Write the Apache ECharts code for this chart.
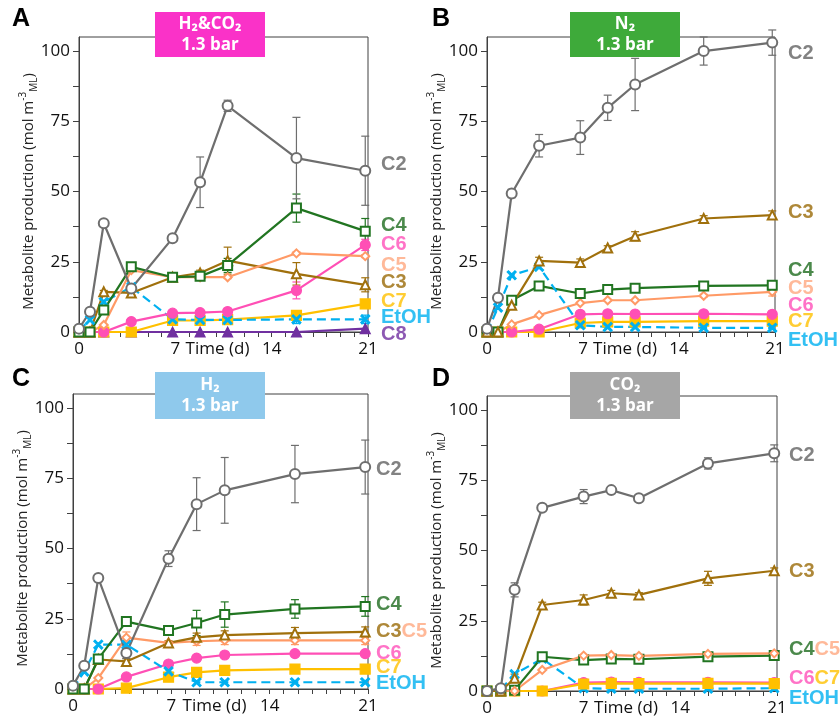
<!DOCTYPE html>
<html><head><meta charset="utf-8">
<script src="https://cdn.jsdelivr.net/npm/echarts@6/dist/echarts.min.js"></script>
<style>html,body{margin:0;padding:0;background:#fff}#c{width:840px;height:726px}</style>
</head><body><div id="c"></div>
<script>
// ---------- DATA ----------
const times  = [0, 0.8, 1.8, 3.8, 6.8, 8.8, 10.8, 15.8, 20.8];
const timesD = [0, 1, 2, 4, 7, 9, 11, 16, 20.8];
const xTickLabels = [0, 7, 14, 21];
const yTickLabels = [0, 25, 50, 75, 100];

// Panel A: H2&CO2
const A_C2 = [1.2, 7.2, 38.7, 15.5, 33.4, 53.3, 80.5, 61.9, 57.4];
const A_C2_err = [0, 0, 0.5, 0, 0.5, 9, 2, 14.5, 12.3];
const A_C3 = [0, 0, 14.3, 13.9, 19.5, 21, 25.4, 20.7, 16.8];
const A_C3_err = [0, 0, 0.5, 0.8, 0.5, 1, 4.8, 4, 2.5];
const A_C4 = [0, 0, 7.8, 23.2, 19.5, 19.8, 23.7, 44.1, 35.9];
const A_C4_err = [0, 0, 1, 0.5, 0.5, 1, 2.5, 5, 4.5];
const A_C5 = [0, 0, 2.5, 22, 19.5, 19.5, 19.5, 28, 27];
const A_C5_err = [0, 0, 0, 0, 0.5, 0.5, 0.5, 0.5, 0.5];
const A_C6 = [0, 0, 0, 3.7, 6.7, 6.9, 7.3, 14.8, 31];
const A_C6_err = [0, 0, 0, 0, 0.3, 0.5, 0.5, 3, 2];
const A_C7 = [0, 0, 0, 0, 4.1, 4.1, 4.4, 5.9, 10];
const A_EtOH = [0.5, 4.3, 10.7, 16, 4.5, 4.3, 4.3, 4.5, 4.5];
const A_EtOH_err = [0, 0, 0.5, 0.5, 0.5, 1, 1, 1.5, 1.5];
const A_C8 = [0, 0, 0, 0, 0, 0, 0, 0, 1.2];
const A_labelNames = [['C2'], ['C4'], ['C6'], ['C5'], ['C3'], ['C7'], ['EtOH'], ['C8']];
const A_labelY = [59.8, 37.9, 31, 23.7, 17.5, 10.9, 5.1, -0.9];

// Panel B: N2
const B_C2 = [1.2, 12.2, 49.3, 66.3, 69.2, 79.8, 88.1, 100, 103];
const B_C2_err = [0, 0, 1.5, 4, 6, 4.5, 9.3, 5, 4.5];
const B_C3 = [0, 0, 9.5, 25.3, 24.7, 29.9, 34.1, 40.4, 41.6];
const B_C3_err = [0, 0, 1, 1.3, 1.3, 0.8, 1.6, 1, 1.5];
const B_C4 = [0, 0, 11.3, 16.4, 13.7, 15.1, 15.6, 16.4, 16.6];
const B_C4_err = [0, 0, 0.5, 0.8, 0.8, 0.8, 0.8, 0.8, 0.8];
const B_C5 = [0, 0, 2.7, 6, 10.3, 11.3, 11.3, 12.9, 14.3];
const B_C5_err = [0, 0, 0, 0, 0.3, 0.3, 0.3, 0.5, 1.5];
const B_C6 = [0, 0, 0, 1, 6.3, 6.5, 6.4, 6.5, 6.3];
const B_C7 = [0, 0, 0, 0, 3.2, 3.6, 3.6, 3.9, 3.9];
const B_EtOH = [0, 8.7, 20.2, 23.2, 2.4, 1.8, 1.8, 1.5, 1.5];
const B_labelNames = [['C2'], ['C3'], ['C4'], ['C5'], ['C6'], ['C7'], ['EtOH']];
const B_labelY = [99.2, 42.5, 22, 15.4, 9.5, 3.6, -3];

// Panel C: H2
const C_C2 = [1.2, 8.3, 39.5, 12.8, 46.4, 65.8, 70.7, 76.5, 79];
const C_C2_err = [0, 0.5, 0.5, 2, 2.8, 9.4, 11.7, 10.2, 9.6];
const C_C3 = [0, 0, 10.5, 9.8, 16.4, 18.4, 19.2, 19.9, 20.3];
const C_C3_err = [0, 0, 0.5, 1, 0.8, 1.5, 1.5, 2, 1.8];
const C_C4 = [0, 0, 10.7, 24, 20.8, 23.5, 26.5, 28.5, 29.4];
const C_C4_err = [0, 0, 0.5, 0.8, 1, 4.5, 4.5, 3.3, 3.5];
const C_C5 = [0, 0, 3.9, 18.3, 16.4, 17, 17.3, 17.3, 17.3];
const C_C5_err = [0, 0, 0, 2, 0.5, 1.5, 1.5, 1.5, 1.5];
const C_C6 = [0, 0, 0, 4.3, 8.9, 11, 12.1, 12.6, 12.6];
const C_C7 = [0, 0, 0, 0.3, 4.2, 5.9, 6.6, 7.1, 7.1];
const C_EtOH = [0, 6.2, 15.8, 15.8, 6.3, 2.4, 2.4, 2.4, 2.4];
const C_labelNames = [['C2'], ['C4'], ['C3', 'C5'], ['C6'], ['C7'], ['EtOH']];
const C_labelY = [78, 30, 20.3, 12.8, 7.5, 2.1];

// Panel D: CO2
const D_C2 = [0, 1, 36, 65.2, 69.2, 71.5, 68.6, 81, 84.6];
const D_C2_err = [0, 0, 2.5, 0.8, 2.5, 0.8, 0.8, 2, 3];
const D_C3 = [0, 0, 4.5, 30.6, 32.4, 34.8, 34.2, 40.1, 42.8];
const D_C3_err = [0, 0, 1.5, 1, 1.8, 1, 0.8, 2.5, 1];
const D_C4 = [0, 0, 0.3, 12.2, 11, 11.4, 11.3, 12.2, 12.6];
const D_C5 = [0, 0, 0, 7.5, 12.6, 12.8, 12.5, 13.2, 13.4];
const D_C6 = [0, 0, 0, 0, 3, 3.2, 3.1, 3.1, 3];
const D_C7 = [0, 0, 0, 0, 2.5, 2.7, 2.6, 2.7, 2.6];
const D_EtOH = [0, 0.5, 6, 11.5, 1, 0.8, 0.8, 0.8, 1];
const D_labelNames = [['C2'], ['C3'], ['C4', 'C5'], ['C6', 'C7'], ['EtOH']];
const D_labelY = [84, 42.5, 14.6, 4.5, -2.6];

// ---------- STYLES / LAYOUT ----------
const XPATH = 'path://M0,1.4L1.4,0L5,3.6L8.6,0L10,1.4L6.4,5L10,8.6L8.6,10L5,6.4L1.4,10L0,8.6L3.6,5Z';
const styles = {
  C2:   {color: '#6E6E6E', label: '#636363', symbol: 'emptyCircle',  size: 10},
  C3:   {color: '#A0700C', label: '#9A6A08', symbol: 'emptyTriangle', size: 9},
  C4:   {color: '#217521', label: '#1E6B1E', symbol: 'emptyRect',    size: 9},
  C5:   {color: '#FF9A66', label: '#FFA77F', symbol: 'emptyDiamond', size: 8},
  C6:   {color: '#FF4FB5', label: '#FF50B9', symbol: 'circle',       size: 10},
  C7:   {color: '#FFC000', label: '#FFC000', symbol: 'rect',         size: 10},
  EtOH: {color: '#00B0F0', label: '#00B0F0', symbol: XPATH,          size: 9, dashed: true},
  C8:   {color: '#7030A0', label: '#7030A0', symbol: 'triangle',     size: 10}
};

const panels = [
  {t: times, grid: {left: 79, top: 37, width: 289, height: 295}, labelDist: 13,
   series: [['C8', A_C8], ['C7', A_C7], ['EtOH', A_EtOH, A_EtOH_err], ['C6', A_C6, A_C6_err], ['C3', A_C3, A_C3_err], ['C5', A_C5, A_C5_err], ['C4', A_C4, A_C4_err], ['C2', A_C2, A_C2_err]],
   labels: [A_labelNames, A_labelY],
   letter: 'A', letterPos: [12, 7], box: {x: 155, y: 12, w: 110, h: 45, color: '#FA32C8', text: 'H₂&CO₂\n1.3 bar'}},
  {t: times, grid: {left: 487, top: 37, width: 288, height: 295}, labelDist: 13,
   series: [['C7', B_C7], ['C6', B_C6], ['C5', B_C5, B_C5_err], ['C4', B_C4, B_C4_err], ['EtOH', B_EtOH], ['C3', B_C3, B_C3_err], ['C2', B_C2, B_C2_err]],
   labels: [B_labelNames, B_labelY],
   letter: 'B', letterPos: [432, 7], box: {x: 570, y: 12, w: 110, h: 45, color: '#3EAA3A', text: 'N₂\n1.3 bar'}},
  {t: times, grid: {left: 73, top: 394, width: 295, height: 295}, labelDist: 8,
   series: [['C7', C_C7], ['C6', C_C6], ['EtOH', C_EtOH], ['C5', C_C5, C_C5_err], ['C3', C_C3, C_C3_err], ['C4', C_C4, C_C4_err], ['C2', C_C2, C_C2_err]],
   labels: [C_labelNames, C_labelY],
   letter: 'C', letterPos: [12, 367], box: {x: 155, y: 372, w: 110, h: 47, color: '#8FC9EC', text: 'H₂\n1.3 bar'}},
  {t: timesD, grid: {left: 487, top: 396, width: 290, height: 295}, labelDist: 12,
   series: [['EtOH', D_EtOH], ['C6', D_C6], ['C7', D_C7], ['C4', D_C4], ['C5', D_C5], ['C3', D_C3, D_C3_err], ['C2', D_C2, D_C2_err]],
   labels: [D_labelNames, D_labelY],
   letter: 'D', letterPos: [432, 367], box: {x: 570, y: 372, w: 110, h: 47, color: '#A6A6A6', text: 'CO₂\n1.3 bar'}}
];

const AX = '#404040';
const FONT = 'Open Sans';
const yTickVals = [0, 12.5, 25, 37.5, 50, 62.5, 75, 87.5, 100];
const xTickVals = Array.from({length: 22}, (_, i) => i);

const richLabel = {};
Object.keys(styles).forEach(k => {
  richLabel[k] = {color: styles[k].label, fontSize: 20, fontWeight: 'bold', fontFamily: 'Liberation Sans'};
});

const grids = [], xAxes = [], yAxes = [], series = [], graphics = [];
panels.forEach((p, i) => {
  grids.push(Object.assign({show: true, borderColor: AX, borderWidth: 1, backgroundColor: 'transparent'}, p.grid));
  xAxes.push({
    gridIndex: i, type: 'value', min: 0, max: 21, interval: 1,
    axisLine: {show: true, onZero: false, lineStyle: {color: AX, width: 1}},
    axisTick: {show: true, length: 5, customValues: xTickVals, lineStyle: {color: AX}},
    axisLabel: {customValues: xTickLabels, fontSize: 17, color: '#111', margin: 9, fontFamily: FONT},
    splitLine: {show: false},
    name: 'Time (d)', nameLocation: 'middle', nameGap: 9, nameMoveOverlap: false,
    nameTextStyle: {fontSize: 17, color: '#111', fontFamily: FONT, verticalAlign: 'top', padding: [0, 12, 0, 0]}
  });
  yAxes.push({
    gridIndex: i, type: 'value', min: 0, max: 105, interval: 12.5,
    axisLine: {show: true, onZero: false, lineStyle: {color: AX, width: 1}},
    axisTick: {show: true, length: 6, customValues: yTickVals, lineStyle: {color: AX}},
    axisLabel: {customValues: yTickLabels, fontSize: 17, color: '#111', margin: 9, fontFamily: FONT},
    splitLine: {show: false},
    name: '{b|Metabolite production (mol m}{sup|-3}{sub|ML}{b|)}',
    nameLocation: 'middle', nameGap: 40, nameRotate: 90, nameMoveOverlap: false,
    nameTextStyle: {
      padding: [0, 14, 0, 0],
      rich: {
        b: {fontSize: 15, color: '#222', fontFamily: FONT, lineHeight: 21},
        sup: {fontSize: 10, color: '#222', fontFamily: FONT, lineHeight: 12, verticalAlign: 'top'},
        sub: {fontSize: 10, color: '#222', fontFamily: FONT, lineHeight: 12, verticalAlign: 'bottom'}
      }
    }
  });

  p.series.forEach(([key, vals, errs]) => {
    const st = styles[key];
    const data = p.t.map((t, k) => [t, vals[k]]);
    if (errs) {
      const ed = [];
      p.t.forEach((t, k) => { if (errs[k] > 0) ed.push([t, vals[k] - errs[k], vals[k] + errs[k]]); });
      series.push({
        type: 'custom', xAxisIndex: i, yAxisIndex: i, silent: true, z: 2,
        encode: {x: 0, y: [1, 2]},
        data: ed,
        renderItem: (params, api) => {
          const lo = api.coord([api.value(0), api.value(1)]);
          const hi = api.coord([api.value(0), api.value(2)]);
          const w = 4, s = {stroke: st.color, lineWidth: 1.2};
          return {type: 'group', children: [
            {type: 'line', shape: {x1: lo[0], y1: lo[1], x2: hi[0], y2: hi[1]}, style: s},
            {type: 'line', shape: {x1: lo[0] - w, y1: lo[1], x2: lo[0] + w, y2: lo[1]}, style: s},
            {type: 'line', shape: {x1: hi[0] - w, y1: hi[1], x2: hi[0] + w, y2: hi[1]}, style: s}
          ]};
        }
      });
    }
    series.push({
      type: 'line', name: key, xAxisIndex: i, yAxisIndex: i, data: data,
      symbol: st.symbol, symbolSize: st.size, showSymbol: true, z: 3,
      animation: false, silent: true,
      lineStyle: {color: st.color, width: 2.2, type: st.dashed ? [9, 5] : 'solid'},
      itemStyle: {color: st.color, borderColor: st.color, borderWidth: 1.2}
    });
  });

  const [names, ys] = p.labels;
  series.push({
    type: 'scatter', xAxisIndex: i, yAxisIndex: i, symbolSize: 0, clip: false, silent: true, z: 5,
    data: names.map((nm, k) => ({value: [21, ys[k]], label: {formatter: nm.map(n => '{' + n + '|' + n + '}').join('')}})),
    label: {show: true, position: 'right', distance: p.labelDist, rich: richLabel}
  });

  graphics.push({
    type: 'text', left: p.letterPos[0], top: p.letterPos[1], z: 10,
    style: {text: p.letter, font: 'bold 25px "Liberation Sans"', fill: '#000'}
  });
  graphics.push({
    type: 'group', left: p.box.x, top: p.box.y, z: 10,
    children: [
      {type: 'rect', shape: {x: 0, y: 0, width: p.box.w, height: p.box.h}, style: {fill: p.box.color}},
      {type: 'text', x: p.box.w / 2, y: p.box.h / 2,
       style: {text: p.box.text, font: 'bold 17px "Open Sans"', fill: '#fff', align: 'center', verticalAlign: 'middle', lineHeight: 21}}
    ]
  });
});

const chart = echarts.init(document.getElementById('c'), null, {renderer: 'canvas'});
chart.setOption({
  animation: false,
  backgroundColor: '#fff',
  grid: grids, xAxis: xAxes, yAxis: yAxes, series: series, graphic: graphics
});
</script></body></html>
